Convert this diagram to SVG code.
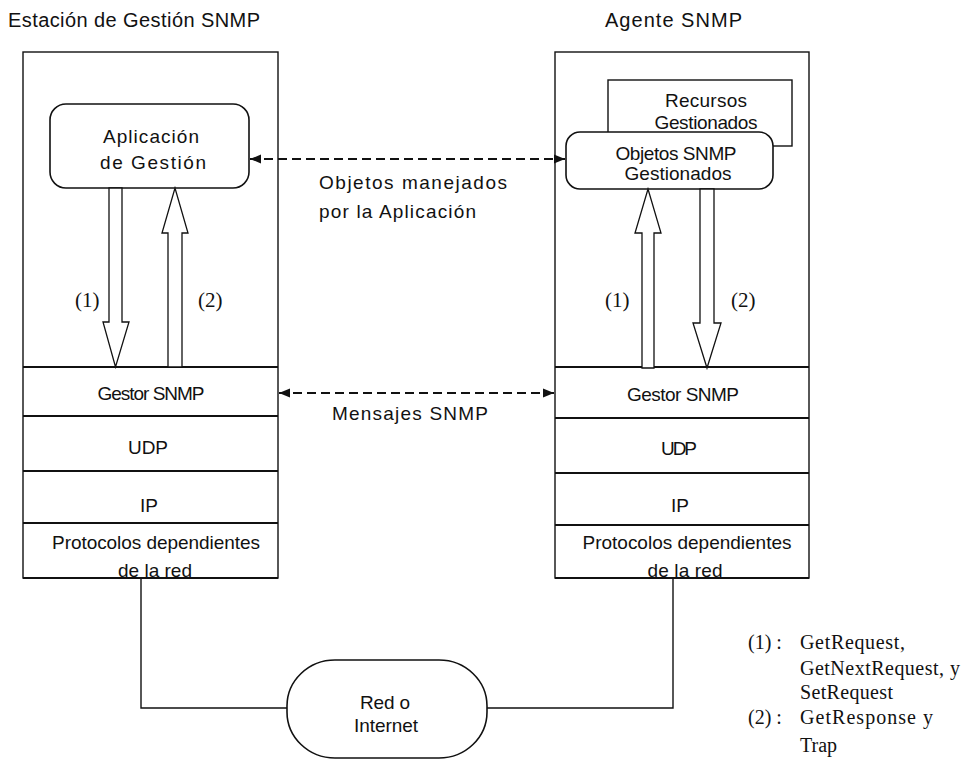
<svg xmlns="http://www.w3.org/2000/svg" width="967" height="763" viewBox="0 0 967 763">
  <style>
    .box { fill: #fff; stroke: #111; stroke-width: 1.4; }
    .div { stroke: #111; stroke-width: 2; fill: none; }
    .rnd { fill: #fff; stroke: #111; stroke-width: 1.6; }
    .blk { fill: #fff; stroke: #111; stroke-width: 1.3; stroke-linejoin: miter; }
    .link { fill: none; stroke: #111; stroke-width: 1.4; }
    .dash { fill: none; stroke: #111; stroke-width: 1.8; stroke-dasharray: 9 5; }
    text { font-family: "Liberation Sans", Arial, sans-serif; fill: #111; }
    .hd { font-size: 20px; }
    .lb { font-size: 19px; text-anchor: middle; }
    .lg { font-family: "Liberation Serif", "Times New Roman", serif; font-size: 20px; }
    .nm { font-family: "Liberation Serif", "Times New Roman", serif; font-size: 21px; }
  </style>
  <defs>
    <marker id="ah" viewBox="0 0 10 10" refX="10" refY="5" markerWidth="11" markerHeight="11" markerUnits="userSpaceOnUse" orient="auto-start-reverse">
      <path d="M0,1 L10,5 L0,9 Z" fill="#111"/>
    </marker>
  </defs>

  <!-- headers -->
  <text class="hd" x="8" y="27" textLength="252" lengthAdjust="spacing">Estación de Gestión SNMP</text>
  <text class="hd" x="605" y="27" textLength="137" lengthAdjust="spacing">Agente SNMP</text>

  <!-- management station -->
  <g id="estacion">
    <rect class="box" x="23" y="52" width="255" height="526"/>
    <line class="div" x1="23" y1="367" x2="278" y2="367"/>
    <line class="div" x1="23" y1="416" x2="278" y2="416"/>
    <line class="div" x1="23" y1="471" x2="278" y2="471"/>
    <line class="div" x1="23" y1="523" x2="278" y2="523"/>
    <line class="div" x1="23" y1="578" x2="278" y2="578"/>
    <text class="lb" x="151" y="400" textLength="107" lengthAdjust="spacing">Gestor SNMP</text>
    <text class="lb" x="148" y="454" textLength="40" lengthAdjust="spacing">UDP</text>
    <text class="lb" x="149" y="512">IP</text>
    <text class="lb" x="156" y="549" textLength="208" lengthAdjust="spacing">Protocolos dependientes</text>
    <text class="lb" x="155" y="577" textLength="74" lengthAdjust="spacing">de la red</text>
  </g>

  <g id="aplicacion">
    <rect class="rnd" x="50" y="104" width="199" height="84" rx="16" ry="16"/>
    <text class="lb" x="151" y="143" textLength="96" lengthAdjust="spacing">Aplicación</text>
    <text class="lb" x="153" y="169" textLength="106" lengthAdjust="spacing">de Gestión</text>
  </g>

  <!-- agent -->
  <g id="agente">
    <rect class="box" x="555" y="52" width="254" height="526"/>
    <line class="div" x1="555" y1="367" x2="809" y2="367"/>
    <line class="div" x1="555" y1="418" x2="809" y2="418"/>
    <line class="div" x1="555" y1="473" x2="809" y2="473"/>
    <line class="div" x1="555" y1="525" x2="809" y2="525"/>
    <line class="div" x1="555" y1="578" x2="809" y2="578"/>
    <text class="lb" x="683" y="401" textLength="112" lengthAdjust="spacing">Gestor SNMP</text>
    <text class="lb" x="679" y="455" textLength="36" lengthAdjust="spacing">UDP</text>
    <text class="lb" x="680" y="512">IP</text>
    <text class="lb" x="687" y="549" textLength="209" lengthAdjust="spacing">Protocolos dependientes</text>
    <text class="lb" x="685" y="577" textLength="75" lengthAdjust="spacing">de la red</text>
  </g>

  <g id="recursos">
    <rect class="box" x="608" y="80" width="184" height="66"/>
    <text class="lb" x="706" y="107" textLength="82" lengthAdjust="spacing">Recursos</text>
    <text class="lb" x="706" y="129" textLength="103" lengthAdjust="spacing">Gestionados</text>
  </g>

  <g id="objetos">
    <rect class="rnd" x="566" y="132" width="207" height="57" rx="14" ry="14"/>
    <text class="lb" x="676" y="160" textLength="121" lengthAdjust="spacing">Objetos SNMP</text>
    <text class="lb" x="678" y="180" textLength="107" lengthAdjust="spacing">Gestionados</text>
  </g>

  <!-- network cloud -->
  <g id="red">
    <rect class="rnd" x="287" y="660" width="200" height="98" rx="48" ry="46"/>
    <text class="lb" x="385" y="709" textLength="50" lengthAdjust="spacing">Red o</text>
    <text class="lb" x="386" y="732" textLength="64" lengthAdjust="spacing">Internet</text>
  </g>

  <!-- connectors -->
  <g id="conectores">
    <!-- hollow block arrows, station side -->
    <polygon class="blk" points="109,188 122,188 122,322 129,322 115.5,367 103,322 109,322"/>
    <polygon class="blk" points="168,367 182,367 182,233 188,233 175,188 162,233 168,233"/>
    <!-- hollow block arrows, agent side -->
    <polygon class="blk" points="642,368 654,368 654,233 661,233 648,189 635,233 642,233"/>
    <polygon class="blk" points="700,189 714,189 714,323 721,323 707,368 693,323 700,323"/>

    <!-- dashed exchanges -->
    <line class="dash" x1="250" y1="159" x2="565" y2="159" marker-start="url(#ah)" marker-end="url(#ah)"/>
    <line class="dash" x1="279" y1="393" x2="554" y2="393" marker-start="url(#ah)" marker-end="url(#ah)"/>

    <!-- links to the network -->
    <polyline class="link" points="141,578 141,708 287,708"/>
    <polyline class="link" points="487,708 673,708 673,578"/>
  </g>

  <!-- connector labels -->
  <text class="lb" x="413" y="189" textLength="188" lengthAdjust="spacing">Objetos manejados</text>
  <text x="319" y="218" font-size="19" textLength="157" lengthAdjust="spacing">por la Aplicación</text>
  <text class="lb" x="410" y="420" textLength="156" lengthAdjust="spacing">Mensajes SNMP</text>

  <text class="nm" x="75" y="307">(1)</text>
  <text class="nm" x="198" y="307">(2)</text>
  <text class="nm" x="605" y="307">(1)</text>
  <text class="nm" x="731" y="307">(2)</text>

  <!-- legend -->
  <g id="leyenda">
    <text class="lg" x="748" y="649">(1) :</text>
    <text class="lg" x="800" y="649" textLength="105" lengthAdjust="spacing">GetRequest,</text>
    <text class="lg" x="800" y="675" textLength="160" lengthAdjust="spacing">GetNextRequest, y</text>
    <text class="lg" x="800" y="699" textLength="93" lengthAdjust="spacing">SetRequest</text>
    <text class="lg" x="748" y="724">(2) :</text>
    <text class="lg" x="800" y="724" textLength="133" lengthAdjust="spacing">GetResponse y</text>
    <text class="lg" x="800" y="752">Trap</text>
  </g>
</svg>
